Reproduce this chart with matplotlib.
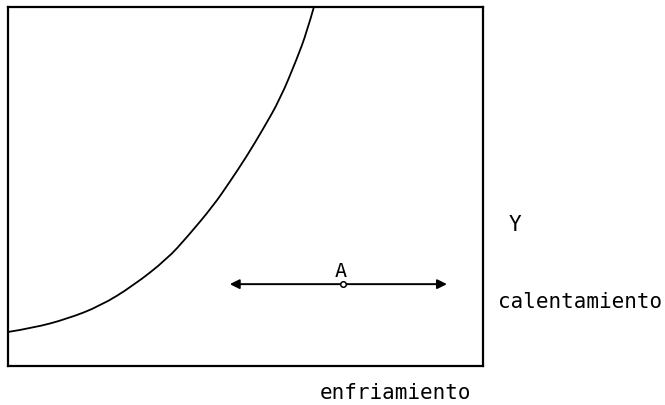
import matplotlib
matplotlib.use('Agg')
import matplotlib.pyplot as plt
from matplotlib.path import Path
from matplotlib.patches import PathPatch

# curve points (box spans 0..10 on both axes)
curve_x = [0.01, 0.53, 1.24, 1.94, 2.63, 3.35, 3.77, 4.32, 4.67, 5.03, 5.37, 5.73, 6.08, 6.29, 6.44]
curve_y = [0.95, 1.06, 1.31, 1.67, 2.23, 2.98, 3.59, 4.46, 5.13, 5.85, 6.60, 7.44, 8.55, 9.30, 10.0]

# double arrow and point A
arrow_x = [4.67, 9.24]
arrow_y = 2.28
point_a = (7.05, 2.28)

fig = plt.figure(figsize=(6.65, 4.06), dpi=100)
ax = fig.add_axes([8 / 665, 1 - 367 / 406, 475 / 665, 359 / 406])
ax.set_xlim(0, 10)
ax.set_ylim(0, 10)
ax.set_xticks([])
ax.set_yticks([])
for s in ax.spines.values():
    s.set_linewidth(1.6)
    s.set_color('black')

# smooth curve: quadratic segments through the read points (used as control points)
pts = list(zip(curve_x, curve_y))
verts = [pts[0]]
codes = [Path.MOVETO]
for i in range(1, len(pts) - 1):
    mid = ((pts[i][0] + pts[i + 1][0]) / 2, (pts[i][1] + pts[i + 1][1]) / 2)
    end = pts[i + 1] if i == len(pts) - 2 else mid
    verts += [pts[i], end]
    codes += [Path.CURVE3, Path.CURVE3]
ax.add_patch(PathPatch(Path(verts, codes), facecolor='none', edgecolor='black',
                       linewidth=1.3, clip_on=False))

ax.annotate('', xy=(arrow_x[0], arrow_y), xytext=(arrow_x[1], arrow_y),
            arrowprops=dict(arrowstyle='<|-|>', color='black', lw=1.4,
                            mutation_scale=14, shrinkA=0, shrinkB=0))
ax.plot(*point_a, marker='o', markersize=4, markerfacecolor='white',
        markeredgecolor='black', markeredgewidth=1.1, zorder=5)
ax.text(point_a[0] - 0.05, point_a[1] + 0.12, 'A', ha='center', va='bottom',
        family='DejaVu Sans Mono', fontsize=14.5)

mono = dict(family='DejaVu Sans Mono', fontsize=15, color='black')
fig.text(515 / 665, 1 - 225 / 406, 'Y', ha='center', va='center', **mono)
fig.text(498 / 665, 1 - 302 / 406, 'calentamiento', ha='left', va='center', **mono)
fig.text(320 / 665, 1 - 393 / 406, 'enfriamiento', ha='left', va='center', **mono)

fig.savefig('out.png', dpi=100)
